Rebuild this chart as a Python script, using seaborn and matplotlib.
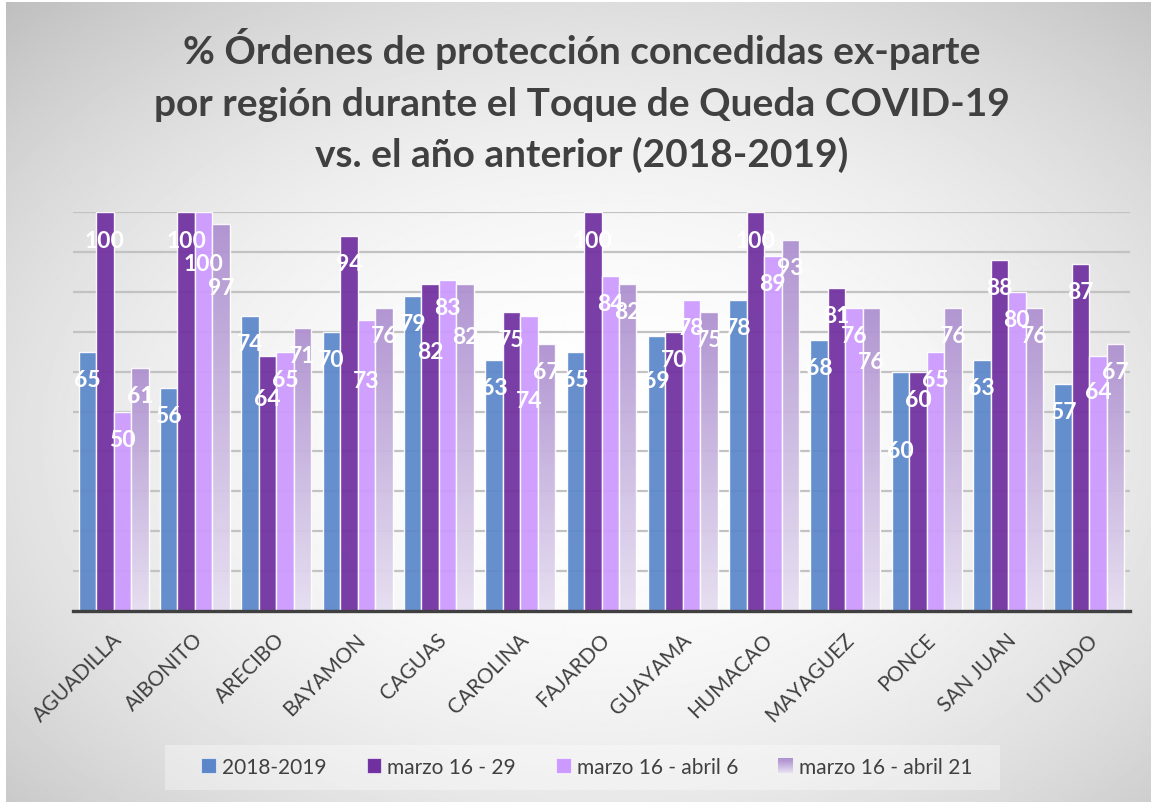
import numpy as np
import pandas as pd
import matplotlib
matplotlib.use("Agg")
import matplotlib.pyplot as plt
import matplotlib.transforms as mtransforms
import seaborn as sns
from matplotlib.patches import Rectangle
from matplotlib.legend_handler import HandlerBase
from matplotlib.colors import to_rgb

# ---------------- data ----------------
regions = ["AGUADILLA", "AIBONITO", "ARECIBO", "BAYAMON", "CAGUAS", "CAROLINA",
           "FAJARDO", "GUAYAMA", "HUMACAO", "MAYAGUEZ", "PONCE", "SAN JUAN", "UTUADO"]
series = ["2018-2019", "marzo 16 - 29", "marzo 16 - abril 6", "marzo 16 - abril 21"]
v_2018_2019 = [65, 56, 74, 70, 79, 63, 65, 69, 78, 68, 60, 63, 57]
v_marzo16_29 = [100, 100, 64, 94, 82, 75, 100, 70, 100, 81, 60, 88, 87]
v_marzo16_abril6 = [50, 100, 65, 73, 83, 74, 84, 78, 89, 76, 65, 80, 64]
v_marzo16_abril21 = [61, 97, 71, 76, 82, 67, 82, 75, 93, 76, 76, 76, 67]
values = [v_2018_2019, v_marzo16_29, v_marzo16_abril6, v_marzo16_abril21]

# label placement (distance below bar top, in value units) - style only
drop_s1 = [7, 7, 7, 7, 7, 7, 7, 11.25, 7, 7, 19.75, 7, 7]
drop_s2 = [7.2, 7.2, 10.8, 7, 17, 7, 7.2, 7, 7.2, 7, 7, 7, 7]
drop_s3 = [7, 13, 7, 15.25, 7, 21.25, 7, 7, 7, 7, 7, 7, 9]
drop_s4 = [7, 16, 7, 7, 13.25, 7, 7, 7, 7, 13.5, 7, 7, 7]
drops = [drop_s1, drop_s2, drop_s3, drop_s4]

colors = ["#5B87CA", "#7030A0", "#CC99FF", "#B196D4"]
grad_top = np.array(to_rgb("#AE91D0"))
grad_bot = np.array(to_rgb("#E6DEF1"))

df = pd.DataFrame({
    "region": np.tile(regions, len(series)),
    "series": np.repeat(series, len(regions)),
    "value": np.concatenate(values),
})

# ---------------- figure ----------------
W, H = 1151, 803
plt.rcParams["font.family"] = ["Lato", "DejaVu Sans"]
fig = plt.figure(figsize=(W / 100, H / 100), dpi=100, facecolor="white")

# radial gradient background
bg = fig.add_axes([6 / W, 0, 1 - 6 / W, 1 - 3 / H], zorder=-10)
yy, xx = np.mgrid[0:H, 0:W]
dx = (xx - 600) / 575.0
dy = (yy - 440) / 400.0
r2 = dx ** 2 + dy ** 2
val = np.clip(1 - 0.11 * r2, 0, 1)
bg.imshow(val, cmap="gray", vmin=0, vmax=1, aspect="auto", extent=[0, 1, 0, 1], origin="upper")
bg.axis("off")

ax = fig.add_axes([73 / W, 1 - 612 / H, (1130 - 73) / W, (612 - 213) / H])
ax.patch.set_alpha(0)

sns.barplot(data=df, x="region", y="value", hue="series", order=regions,
            hue_order=series, palette=colors, saturation=1, width=0.86, gap=0,
            alpha=0.93, edgecolor=(1, 1, 1, 0.45), linewidth=1.0,
            legend=False, ax=ax)

xlim = ax.get_xlim()
ax.set_ylim(0, 100)
ax.set_yticks(np.arange(0, 101, 10))
ax.set_yticklabels([])
ax.grid(axis="y", color="#C2C2C2", linewidth=1.6)
ax.set_axisbelow(True)
for s in ["top", "right", "left"]:
    ax.spines[s].set_visible(False)
ax.spines["bottom"].set_color("#404040")
ax.spines["bottom"].set_linewidth(2.4)
ax.spines["bottom"].set_zorder(6)
ax.tick_params(axis="y", length=0)
ax.tick_params(axis="x", length=0, pad=18, labelsize=15, labelcolor="#404040")
ax.set_xlabel("")
ax.set_ylabel("")
shift = mtransforms.ScaledTranslation(5 / 100, 0, fig.dpi_scale_trans)
for lab in ax.get_xticklabels():
    lab.set_rotation(45)
    lab.set_ha("right")
    lab.set_va("center")
    lab.set_rotation_mode("anchor")
    lab.set_transform(lab.get_transform() + shift)

# gradient fill for last series
grad = np.linspace(0, 1, 128)[:, None, None]
grad_img = grad_top * (1 - grad) + grad_bot * grad
for p in ax.containers[3].patches:
    x0, w, h = p.get_x(), p.get_width(), p.get_height()
    p.set_facecolor("none")
    p.set_zorder(1.3)
    im = ax.imshow(grad_img, extent=[x0, x0 + w, 0, h], origin="upper",
                   aspect="auto", zorder=1.2, alpha=0.95)
    im.set_clip_path(p)
ax.set_xlim(xlim)
ax.set_ylim(0, 100)

# data labels
for i, cont in enumerate(ax.containers):
    for j, p in enumerate(cont.patches):
        v = values[i][j]
        ax.text(p.get_x() + p.get_width() / 2, v - drops[i][j], f"{v}",
                ha="center", va="center", color="white", fontsize=16.5,
                fontweight="bold", zorder=5)

# title
title_lines = ["% Órdenes de protección concedidas ex-parte",
               "por región durante el Toque de Queda COVID-19",
               "vs. el año anterior (2018-2019)"]
baselines = [64, 116, 167]
for t, b in zip(title_lines, baselines):
    fig.text(582 / W, 1 - b / H, t, ha="center", va="baseline", fontsize=28,
             fontweight="bold", color="#404040")

# legend
class GradHandler(HandlerBase):
    def create_artists(self, legend, orig_handle, xdescent, ydescent, width,
                       height, fontsize, trans):
        n = 14
        arts = []
        for k in range(n):
            t = k / (n - 1)
            c = grad_top * (1 - t) + grad_bot * t
            arts.append(Rectangle((-xdescent, -ydescent + height * (1 - (k + 1) / n)),
                                  width, height / n, facecolor=c, edgecolor="none",
                                  transform=trans))
        return arts

handles = [Rectangle((0, 0), 1, 1, facecolor=c, edgecolor=(1, 1, 1, 0.6), linewidth=0.8)
           for c in colors[:3]]
handles.append(Rectangle((0, 0), 1, 1))
fig.patches.append(Rectangle((165 / W, 1 - 791 / H), (1000 - 165) / W, 45 / H,
                             transform=fig.transFigure, facecolor="white",
                             alpha=0.35, edgecolor="none", zorder=1))
fig.legend(handles, series, loc="center", bbox_to_anchor=(587 / W, 1 - 768 / H),
           ncol=4, frameon=False, fontsize=15, labelcolor="#404040",
           handlelength=0.7, handleheight=0.7, handletextpad=0.3,
           columnspacing=1.92, handler_map={handles[3]: GradHandler()})

fig.savefig("out.png", dpi=100, facecolor="white")
